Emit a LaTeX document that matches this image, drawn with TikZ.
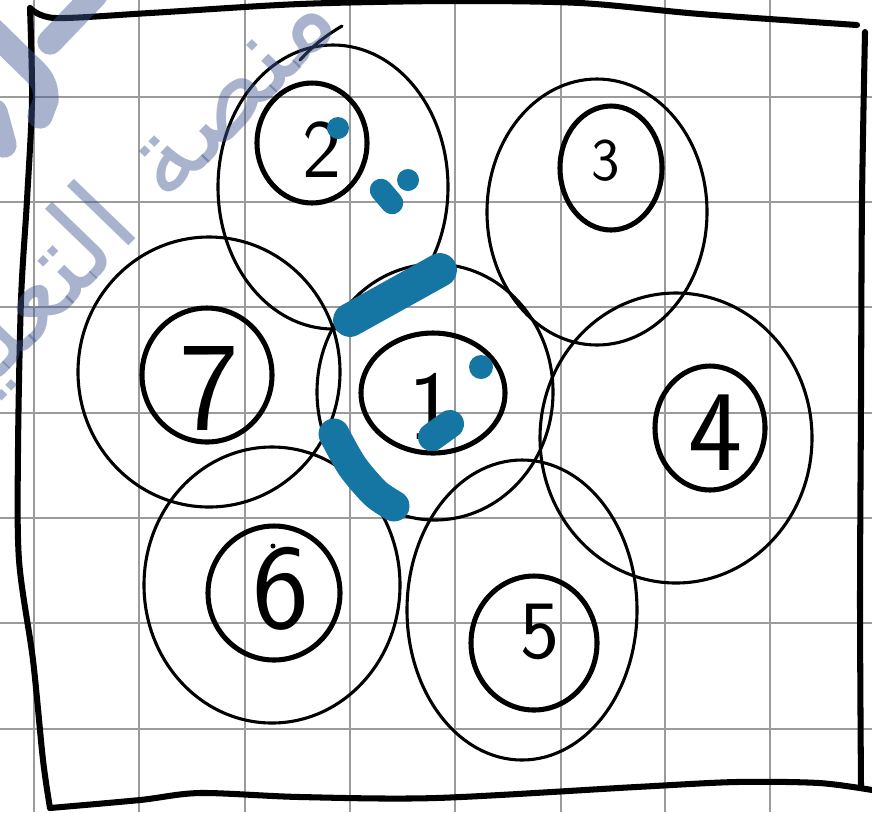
\documentclass[tikz,border=0pt]{standalone}
\usepackage{fontspec}
\usepackage{tikz}
\usetikzlibrary{shapes.geometric}
\newfontfamily\arabicfont[Script=Arabic]{DejaVu Sans}
\TeXXeTstate=1
\definecolor{inkblue}{RGB}{22,118,163}
\definecolor{gridgray}{RGB}{155,155,155}
\definecolor{wmblue}{RGB}{67,88,148}
\newcommand\pxu{0.025cm}
\tikzset{
  cell/.style={ellipse,draw,line width=2.2pt,inner sep=0pt},
  nucleus/.style={ellipse,draw,line width=3.6pt,inner sep=0pt},
  num/.style={font=\sffamily\fontsize{#1}{#1}\selectfont,inner sep=0pt},
  ink/.style={draw=inkblue,line cap=round,line join=round},
  edgeline/.style={line width=4.3pt,line cap=round,line join=round},
  wmark/.style={text=wmblue,text opacity=0.45,inner sep=0pt},
  wmline/.style={draw=wmblue,draw opacity=0.45,line width=18pt,line cap=round},
}

\begin{document}
\begin{tikzpicture}[x=0.025cm,y=-0.025cm]
\useasboundingbox (0,0) rectangle (872,812);
\clip (0,0) rectangle (872,812);
\fill[white] (0,0) rectangle (872,812);
% grid paper
\foreach \gx in {34,139,245,350,455,561,665,770}
  \draw[gridgray,line width=1pt] (\gx,0) -- (\gx,812);
\foreach \gy in {97,202,307,413,518,623,729}
  \draw[gridgray,line width=1pt] (0,\gy) -- (872,\gy);

% cells
\node[cell,minimum width=230*\pxu,minimum height=284*\pxu] (c2) at (333,187) {};
\node[cell,minimum width=220*\pxu,minimum height=266*\pxu] (c3) at (597,212) {};
\node[cell,minimum width=262*\pxu,minimum height=270*\pxu] (c7) at (209,372) {};
\node[cell,minimum width=236*\pxu,minimum height=256*\pxu] (c1) at (435,392) {};
\node[cell,minimum width=272*\pxu,minimum height=290*\pxu] (c4) at (676,438) {};
\node[cell,minimum width=256*\pxu,minimum height=276*\pxu] (c6) at (272,585) {};
\node[cell,minimum width=230*\pxu,minimum height=300*\pxu] (c5) at (522,610) {};
\draw[line width=2.2pt,line cap=round] (300,60) to[bend left=8] (342,26);

% nuclei
\node[nucleus,minimum width=110*\pxu,minimum height=120*\pxu] (k2) at (312,143) {};
\node[nucleus,minimum width=102*\pxu,minimum height=124*\pxu] (k3) at (611,168) {};
\node[nucleus,minimum width=130*\pxu,minimum height=134*\pxu] (k7) at (207,375) {};
\node[nucleus,minimum width=144*\pxu,minimum height=120*\pxu] (k1) at (433,393) {};
\node[nucleus,minimum width=110*\pxu,minimum height=124*\pxu] (k4) at (710,428) {};
\node[nucleus,minimum width=132*\pxu,minimum height=134*\pxu] (k6) at (274,593) {};
\node[nucleus,minimum width=126*\pxu,minimum height=134*\pxu] (k5) at (534,643) {};

% numbers
\node[num=59] (n2) at (322,150) {2};
\node[num=43] (n3) at (606,161) {3};
\node[num=90] (n7) at (209,388) {7};
\node[num=70] (n1) at (432,406) {1};
\node[num=82] (n4) at (716,433) {4};
\node[num=86] (n6) at (281,589) {6};
\node[num=59] (n5) at (540,632) {5};
\fill (273,546) circle[radius=2.5];

% blue marks
\draw[ink,line width=24pt] (350,320) -- (440,270);
\draw[ink,line width=22pt] plot[smooth] coordinates {(334,434)(352,466)(375,493)(394,506)};
\draw[ink,line width=16pt] (381,190) -- (392,203);
\draw[ink,line width=20pt] (432,437) -- (450,424);
\fill[inkblue] (338,128) circle[radius=11];
\fill[inkblue] (408,180) circle[radius=11];
\fill[inkblue] (481,367) circle[radius=12];

% paper border
\draw[edgeline] plot[smooth] coordinates {(30,8)(55,18)(150,13)(300,4)(450,1)(580,3)(700,14)(857,25)};
\draw[edgeline] plot[smooth] coordinates {(865,32)(862,200)(861,400)(860,600)(861,788)};
\draw[edgeline] plot[smooth] coordinates {(30,8)(32,100)(27,200)(21,300)(18,450)(19,560)(33,660)(43,760)(50,808)};
\draw[edgeline] plot[smooth] coordinates {(50,808)(140,800)(200,793)(300,797)(436,798)(636,787)(736,782)(819,783)(872,790)};

% watermark
\draw[wmline] (95,-5) -- (50,42);
\draw[wmline] (-10,28) -- (35,72) to[out=-45,in=90] (46,100) -- (40,116);
\draw[wmline] (-5,112) -- (4,145);
\node[wmark,rotate=46,anchor=east] (wm) at (322,4)
  {\arabicfont\fontsize{80}{90}\selectfont\beginR منصة التعليم\endR};
\end{tikzpicture}
\end{document}
